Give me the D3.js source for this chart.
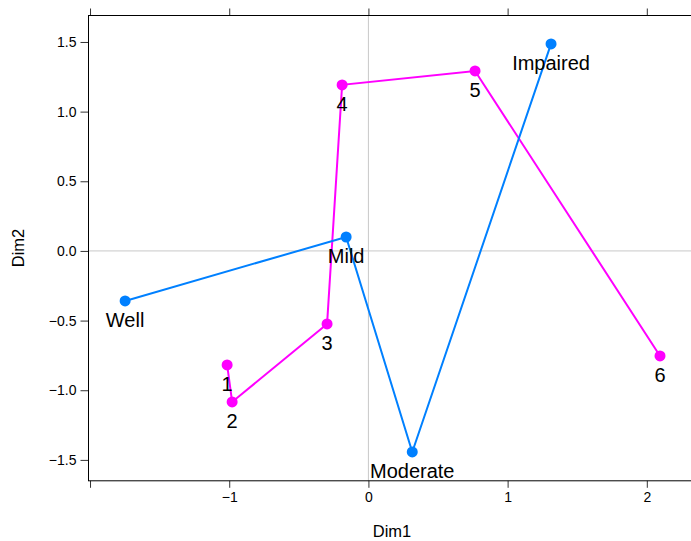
<!DOCTYPE html>
<html>
<head>
<meta charset="utf-8">
<script src="https://cdn.jsdelivr.net/npm/d3@7"></script>
<style>
html,body{margin:0;padding:0;background:#fff;}
svg{display:block;font-family:"Liberation Sans",Arial,Helvetica,sans-serif;}
</style>
</head>
<body>
<svg id="chart" width="691" height="541"></svg>
<script>
// Data
const statusLabels = ["Well", "Mild", "Moderate", "Impaired"];
const statusDim1 = [-1.748, -0.160, 0.315, 1.312];
const statusDim2 = [-0.359, 0.100, -1.443, 1.486];

const stepLabels = ["1", "2", "3", "4", "5", "6"];
const stepDim1 = [-1.015, -0.979, -0.297, -0.189, 0.766, 2.095];
const stepDim2 = [-0.818, -1.084, -0.524, 1.192, 1.292, -0.754];

const xTicks = [-2, -1, 0, 1, 2];
const xTickLabels = ["", "\u22121", "0", "1", "2"];
const yTicks = [-1.5, -1.0, -0.5, 0.0, 0.5, 1.0, 1.5];
const yTickLabels = ["\u22121.5", "\u22121.0", "\u22120.5", "0.0", "0.5", "1.0", "1.5"];

(function () {
const svg = d3.select("#chart");
const pLeft = 88.5, pTop = 15.5, pRight = 692.6, pBottom = 480.8;

const x = d3.scaleLinear().domain([-2.011, 2.329]).range([pLeft, pRight]);
const y = d3.scaleLinear().domain([-1.65, 1.69]).range([pBottom, pTop]);

// reference lines
svg.append("line").attr("x1", x(0)).attr("x2", x(0)).attr("y1", pTop).attr("y2", pBottom)
  .attr("stroke", "#c8c8c8").attr("stroke-width", 1);
svg.append("line").attr("x1", pLeft).attr("x2", pRight).attr("y1", y(0)).attr("y2", y(0))
  .attr("stroke", "#c8c8c8").attr("stroke-width", 1);

// axes
const tickColor = "#333";
const xb = svg.append("g").attr("transform", `translate(0,${pBottom})`)
  .call(d3.axisBottom(x).tickValues(xTicks).tickSize(7).tickPadding(4)
    .tickFormat((d, i) => xTickLabels[i]));
const xt = svg.append("g").attr("transform", `translate(0,${pTop})`)
  .call(d3.axisTop(x).tickValues(xTicks).tickSize(7).tickFormat(""));
const yl = svg.append("g").attr("transform", `translate(${pLeft},0)`)
  .call(d3.axisLeft(y).tickValues(yTicks).tickSize(8).tickPadding(4)
    .tickFormat((d, i) => yTickLabels[i]));
[xb, xt, yl].forEach(g => {
  g.select(".domain").remove();
  g.selectAll(".tick line").attr("stroke", tickColor).attr("stroke-width", 1);
  g.selectAll(".tick text").attr("fill", "#000").style("font-size", "14px")
   .style("font-family", "Liberation Sans, Arial, sans-serif");
});

// panel box
svg.append("rect").attr("x", pLeft).attr("y", pTop).attr("width", pRight - pLeft).attr("height", pBottom - pTop)
  .attr("fill", "none").attr("stroke", "#000").attr("stroke-width", 1);

// axis titles
svg.append("text").attr("x", 392).attr("y", 537).attr("text-anchor", "middle")
  .style("font-size", "16.5px").text("Dim1");
svg.append("text").attr("transform", `translate(24,248) rotate(-90)`).attr("text-anchor", "middle")
  .style("font-size", "16.5px").text("Dim2");

function drawSeries(xs, ys, labels, color) {
  const pts = xs.map((d, i) => [d, ys[i], labels[i]]);
  const line = d3.line().x(d => x(d[0])).y(d => y(d[1]));
  svg.append("path").datum(pts).attr("d", line).attr("fill", "none")
    .attr("stroke", color).attr("stroke-width", 2);
  svg.append("g").selectAll("circle").data(pts).join("circle")
    .attr("cx", d => x(d[0])).attr("cy", d => y(d[1])).attr("r", 5.5).attr("fill", color);
  return pts;
}
const p1 = drawSeries(stepDim1, stepDim2, stepLabels, "#ff00ff");
const p2 = drawSeries(statusDim1, statusDim2, statusLabels, "#0080ff");

[...p1, ...p2].forEach(d => {
  svg.append("text").attr("x", x(d[0])).attr("y", y(d[1]) + 26).attr("text-anchor", "middle")
    .style("font-size", "20px").attr("fill", "#000").text(d[2]);
});
})();
</script>
</body>
</html>
